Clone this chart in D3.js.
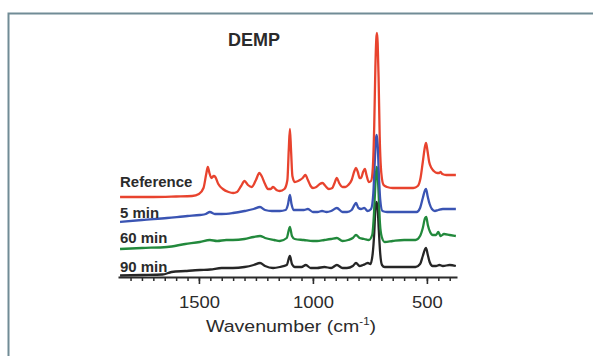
<!DOCTYPE html>
<html>
<head>
<meta charset="utf-8">
<script src="https://cdn.jsdelivr.net/npm/d3@7/dist/d3.min.js"></script>
<style>
  html, body { margin: 0; padding: 0; background: #fff; }
  svg { display: block; }
  text { font-family: "Liberation Sans", Arial, Helvetica, sans-serif; fill: #2b2b2b; }
</style>
</head>
<body>
<svg id="chart" width="593" height="356"></svg>
<script>
// ---- Data (wavenumber cm^-1, stacked intensity in arbitrary units) ----
const seriesNames = ["Reference", "5 min", "60 min", "90 min"];
const seriesColors = ["#e8432e", "#3a54b3", "#22893c", "#262626"];

const referenceData = [
  [1846,80],[1700,80],[1600,80.5],[1530,81],[1500,83],[1480,89],[1468,103],[1461,110],[1454,104],
  [1445,99],[1435,101],[1428,100],[1415,93],[1395,88],[1370,85],[1350,84],[1333,85],[1315,91],
  [1300,96],[1285,92],[1268,90],[1250,97],[1235,104],[1225,101],[1210,93],[1197,88],[1185,88],
  [1175,90],[1160,87],[1145,86],[1125,88],[1112,97],[1106,127],[1101,148],[1096,127],[1090,101],
  [1080,95],[1065,96],[1057,97],[1045,99],[1033,102],[1022,97],[1010,91],[1000,89],[985,90],
  [970,93],[958,94],[945,91],[930,88],[915,89],[905,94],[895,99],[885,94],[870,90],[858,90],
  [845,92],[830,97],[818,106],[811,109],[803,105],[795,99],[789,99],[780,105],[772,108],[765,102],
  [755,95],[745,96],[737,110],[731,152],[726,210],[722,238],[719,244],[716,234],[712,200],[707,140],
  [700,104],[690,92],[675,90],[650,89],[600,89],[560,89],[540,91],[528,99],[518,115],[508,131],
  [504,134],[498,127],[490,115],[480,109],[470,106],[455,104],[446,104],[440,105],[432,103],
  [415,102],[390,102],[373,102]
];
const min5Data = [
  [1846,55],[1750,57],[1640,59],[1550,61],[1496,62],[1470,63],[1452,65],[1430,63],[1400,63],
  [1351,64],[1300,66],[1260,68],[1232,70],[1210,67],[1180,66],[1145,66],[1120,67],[1110,72],
  [1101,82],[1094,73],[1085,67],[1060,67],[1040,67],[1022,68],[1000,65],[980,65],[960,66],
  [940,65],[920,66],[895,69],[870,65],[850,65],[830,67],[818,72],[811,74],[800,69],[789,68],
  [775,69],[760,66],[745,68],[735,84],[729,114],[723,139],[720,142],[716,133],[711,104],[705,78],
  [695,66],[675,65],[600,65],[545,65],[530,69],[518,79],[508,87],[504,88],[497,81],[488,73],
  [478,68],[465,66],[450,67],[430,68],[400,68],[373,68]
];
const min60Data = [
  [1846,28],[1750,29],[1640,30],[1560,33],[1496,35],[1452,37],[1420,36],[1380,37],[1351,37],
  [1300,38],[1260,40],[1232,41],[1210,39],[1170,37],[1145,36],[1115,39],[1101,50],[1092,41],
  [1080,38],[1040,37],[1000,36],[982,36],[950,37],[920,38],[895,39],[870,36],[845,37],[825,39],
  [811,42],[795,39],[775,38],[755,37],[740,42],[732,64],[726,93],[721,110],[717,106],[712,84],
  [706,54],[698,40],[685,35],[650,36],[600,37],[550,37],[530,41],[518,49],[508,59],[503,60],
  [496,52],[486,45],[474,42],[460,42],[450,45],[440,41],[425,43],[400,42],[373,41]
];
const min90Data = [
  [1846,1.5],[1750,2],[1660,2.5],[1620,5],[1560,6],[1496,7],[1450,7.5],[1400,9],[1351,9],
  [1300,10],[1260,12],[1232,14],[1210,11],[1175,9],[1145,10],[1115,12],[1101,21],[1092,13],
  [1079,10],[1050,10],[1031,12],[1010,9],[982,9],[950,10],[920,9],[895,12],[870,9],[851,9],
  [825,11],[811,14],[795,11],[781,12],[770,13],[759,14],[748,13],[738,23],[731,44],[726,68],
  [721,75],[716,68],[711,47],[705,24],[697,12],[685,10],[650,10],[600,10],[550,10],[530,13],
  [518,21],[508,28],[504,29],[497,23],[488,15],[475,11],[460,11],[445,12],[430,11],[400,12],[373,11]
];
const allSeries = [referenceData, min5Data, min60Data, min90Data];

const minorTicks = d3.range(400, 1801, 50);
const majorTicks = [1500, 1000, 500];
const titleText = "DEMP";
const xAxisTitle = "Wavenumber (cm";

// ---- Layout ----
const svg = d3.select("#chart");

// frame
svg.append("path")
  .attr("d", "M8.5,356 L8.5,13.5 L593,13.5")
  .attr("fill", "none")
  .attr("stroke", "#718c96")
  .attr("stroke-width", 2);

const x = d3.scaleLinear().domain([1855, 368]).range([118, 457]);
const y = d3.scaleLinear().domain([0, 250]).range([277, 27]);

const line = d3.line()
  .x(d => x(d[0]))
  .y(d => y(d[1]))
  .curve(d3.curveMonotoneX);

// spectra (draw bottom first so reference is on top)
const order = [3, 2, 1, 0];
order.forEach(i => {
  svg.append("path")
    .datum(allSeries[i])
    .attr("fill", "none")
    .attr("stroke", seriesColors[i])
    .attr("stroke-width", 2.3)
    .attr("stroke-linejoin", "round")
    .attr("d", line);
});

// axis
const axisY = 277;
const gMinor = svg.append("g").attr("transform", `translate(0,${axisY})`)
  .call(d3.axisBottom(x).tickValues(minorTicks).tickSize(4).tickFormat("").tickSizeOuter(0));
gMinor.select(".domain").attr("stroke", "#2b2b2b").attr("stroke-width", 2.2);
gMinor.selectAll(".tick line").attr("stroke", "#2b2b2b").attr("stroke-width", 1.5);

const gMajor = svg.append("g").attr("transform", `translate(0,${axisY})`)
  .call(d3.axisBottom(x).tickValues(majorTicks).tickSize(7).tickSizeOuter(0).tickFormat(d3.format("d")));
gMajor.select(".domain").remove();
gMajor.selectAll(".tick line").attr("stroke", "#2b2b2b").attr("stroke-width", 1.6);
gMajor.selectAll(".tick text")
  .attr("y", 0).attr("dy", null)
  .attr("transform", "translate(0,31) scale(1.15,1)")
  .attr("font-size", 16)
  .attr("fill", "#2b2b2b")
  .style("font-family", '"Liberation Sans", Arial, sans-serif');

// axis title
const t = svg.append("text")
  .attr("text-anchor", "middle")
  .attr("transform", "translate(291,332) scale(1.15,1)")
  .attr("font-size", 17);
t.append("tspan").text(xAxisTitle);
t.append("tspan").attr("font-size", 10).attr("dy", -7).text("-1");
t.append("tspan").attr("dy", 7).text(")");

// chart title
svg.append("text")
  .attr("x", 254).attr("y", 46)
  .attr("text-anchor", "middle")
  .attr("font-size", 18)
  .attr("font-weight", "bold")
  .text(titleText);

// series labels
const labelY = [187, 218, 243, 272];
seriesNames.forEach((name, i) => {
  svg.append("text")
    .attr("transform", `translate(120,${labelY[i]}) scale(1.07,1)`)
    .attr("font-size", 14)
    .attr("font-weight", "bold")
    .text(name);
});
</script>
</body>
</html>
